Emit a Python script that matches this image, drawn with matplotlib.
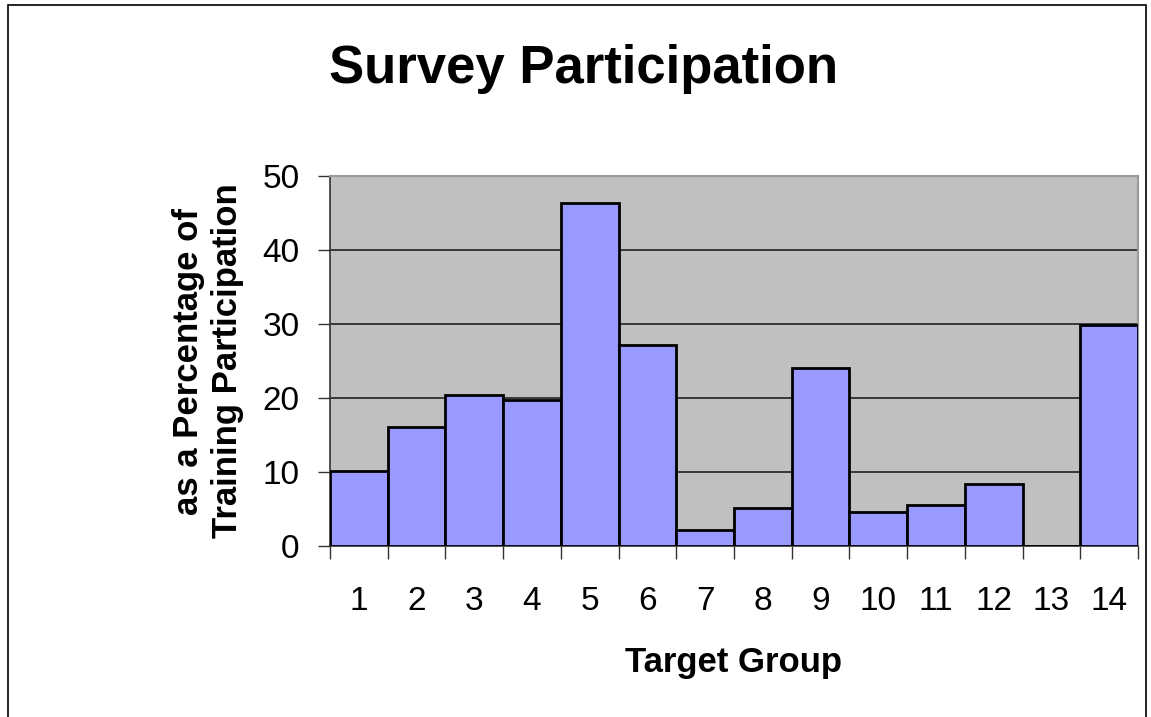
import matplotlib.pyplot as plt
from matplotlib.patches import Rectangle

plt.rcParams['font.family'] = ['Liberation Sans', 'DejaVu Sans']

groups = ['1', '2', '3', '4', '5', '6', '7', '8', '9', '10', '11', '12', '13', '14']
values = [10.1, 16.1, 20.35, 19.75, 46.3, 27.2, 2.2, 5.2, 24.0, 4.6, 5.5, 8.35, 0, 29.9]
y_ticks = [0, 10, 20, 30, 40, 50]

fig = plt.figure(figsize=(11.51, 7.17), dpi=100)
fig.patches.append(Rectangle((0.007, -0.01), 0.989, 1.003, transform=fig.transFigure,
                             fill=False, edgecolor='black', linewidth=1.2))

ax = fig.add_axes([0.2867, 0.2385, 0.702, 0.516])
ax.set_facecolor('#C0C0C0')

x = list(range(1, len(groups) + 1))
ax.bar(x, values, width=1.0, color='#9999FF', edgecolor='black', linewidth=2, zorder=3)

ax.set_xlim(0.5, 14.5)
ax.set_ylim(0, 50)
ax.set_yticks(y_ticks)
ax.set_yticklabels([str(t) for t in y_ticks], fontsize=24)
ax.yaxis.grid(True, color='#222222', linewidth=1.2, zorder=1)
ax.set_axisbelow(True)

# tick marks on category boundaries, labels centred on categories
ax.set_xticks([i + 0.5 for i in range(0, 15)])
ax.set_xticklabels([])
ax.set_xticks(x, minor=True)
ax.set_xticklabels(groups, minor=True, fontsize=24)
ax.tick_params(axis='x', which='minor', length=0, pad=29)
ax.tick_params(axis='x', which='major', length=9, width=1, color='#333333', direction='out')
ax.tick_params(axis='y', length=9, width=1, color='#333333', direction='out', pad=13)

for s in ['top', 'right']:
    ax.spines[s].set_color('#999999')
    ax.spines[s].set_linewidth(1.5)
for s in ['left', 'bottom']:
    ax.spines[s].set_color('#333333')
    ax.spines[s].set_linewidth(1.2)

ax.set_xlabel('Target Group', fontsize=25, fontweight='bold')
ax.xaxis.set_label_coords(0.5, -0.27)
ax.set_ylabel('as a Percentage of\nTraining Participation', fontsize=25,
              fontweight='bold', linespacing=1.2)
ax.yaxis.set_label_coords(-0.107, 0.5)

fig.text(0.507, 0.884, 'Survey Participation', fontsize=38, fontweight='bold',
         ha='center', va='baseline')

fig.savefig('out.png', dpi=100)
